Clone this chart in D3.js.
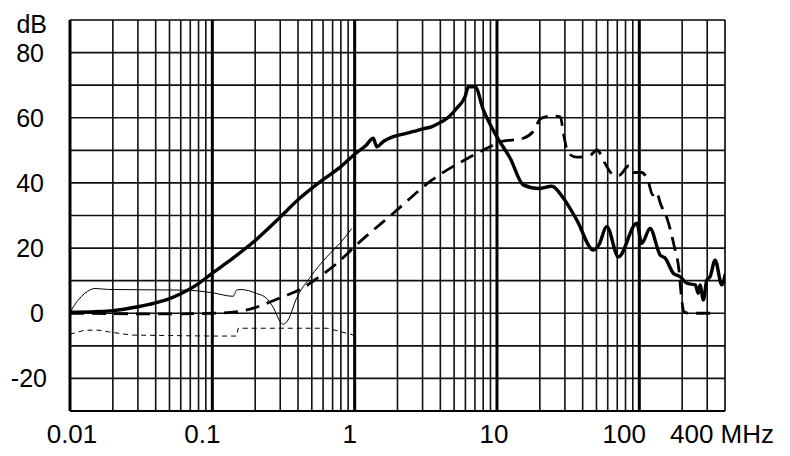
<!DOCTYPE html>
<html><head><meta charset="utf-8">
<script src="https://cdn.jsdelivr.net/npm/d3@7"></script>
<style>body{margin:0;background:#fff}svg{display:block}text{font-family:"Liberation Sans",Arial,sans-serif;fill:#000}</style>
</head><body><svg id="c" width="790" height="456"></svg>
<script>
// ---- data ----
const yTicks = [80, 60, 40, 20, 0, -20];
const yLabels = ["80", "60", "40", "20", "0", "-20"];
const xTicks = [0.01, 0.1, 1, 10, 100, 400];
const xLabels = ["0.01", "0.1", "1", "10", "100", "400 MHz"];
const yUnit = "dB";

// thick solid
const seriesA = [
 [0.01,0.3],[0.015,0.5],[0.02,0.8],[0.03,2],[0.04,3.2],[0.05,4.5],[0.06,6],[0.07,7.5],[0.08,9.1],[0.1,12.3],
 [0.13,15.9],[0.2,22.3],[0.3,29.5],[0.4,34.8],[0.6,41],[0.8,45],[1.0,48.8],[1.2,51.5],[1.35,53.7],[1.43,51.1],
 [1.6,52.8],[1.87,54.2],[2.3,55.2],[2.6,55.8],[2.96,56.5],[3.5,57.3],[4.09,58.8],[4.6,60.3],[5.21,62.9],[5.97,66.5],
 [6.3,69.5],[7.02,69.5],[8.02,62.4],[9.97,54.2],[12.4,47.5],[15.3,39.4],[19.6,38.3],[24.3,39],[29.3,35.3],
 [36.4,28.6],[47.6,19.4],[52,21],[59.1,26.6],[71.3,17.3],[96,27.6],[104,21.5],[119,26],[140,17.9],[152,16.9],
 [174,12.2],[194,11.2],[216,9.2],[247,8.7],[260,6.1],[267,8.7],[282,4.1],[298,10.2],[314,11.2],[341,16.3],[380,8.7],[400,11.7]
];
// thick dashed
const seriesB = [
 [0.01,0],[0.05,-0.2],[0.1,0],[0.15,0.5],[0.175,1],[0.24,3],[0.31,5],[0.41,7.2],[0.54,10.6],[0.75,15.3],[1.03,21],
 [1.87,30.7],[3.5,40.9],[6.5,48],[8.9,51.1],[10.5,52.6],[15.3,53.7],[17.9,55.7],[20.4,59.8],[24.3,60.5],[27.9,60.3],
 [29.3,55.2],[31.7,49.1],[36.4,47.9],[44.6,48.3],[50.4,50.1],[57.4,46],[62.9,43.2],[71.3,42.2],[85,45.3],[91,43.2],
 [104,43.2],[116,40.2],[124,36.3],[131,37.3],[142,33.2],[158,28.6],[174,21.5],[191,12.2],[197,5.6],[206,0.5],[224,0],[350,0]
];
// thin solid
const seriesC = [
 [0.01,0.3],[0.0114,4],[0.0127,6.1],[0.015,7.6],[0.0186,7.3],[0.064,7.1],[0.1,6.3],[0.14,5.2],[0.148,7.1],[0.157,7.3],
 [0.204,6.1],[0.24,4.6],[0.27,1.5],[0.30,-2.6],[0.315,-3.4],[0.34,-2.1],[0.39,4.5],[0.486,11],[0.637,17.3],[0.789,21.5],[0.955,26]
];
// thin dashed
const seriesD = [
 [0.01,-6.4],[0.0127,-5.2],[0.016,-5.2],[0.0186,-5.7],[0.027,-6.7],[0.1,-7],[0.148,-7],[0.152,-4.6],[0.64,-4.6],[0.79,-5.6],[0.98,-6.7]
];

// ---- layout ----
const svg = d3.select("#c");
const L = 70, R = 725, T = 20, B = 411;
const x = d3.scaleLog().domain([0.01, 400]).range([L, R]);
const y = d3.scaleLinear().domain([-30, 90]).range([B, T]);

const g = svg.append("g");
d3.range(-20, 90, 10).forEach(v => {
  g.append("line").attr("x1", L).attr("x2", R).attr("y1", y(v)).attr("y2", y(v))
   .attr("stroke", "#111").attr("stroke-width", 1.6);
});
const minors = [];
[0.01, 0.1, 1, 10, 100].forEach(d => { for (let k = 2; k <= 9; k++) { const v = d * k; if (v < 400) minors.push(v); } });
minors.forEach(v => {
  g.append("line").attr("x1", x(v)).attr("x2", x(v)).attr("y1", T).attr("y2", B)
   .attr("stroke", "#111").attr("stroke-width", 1.6);
});
[0.1, 1, 10, 100].forEach(v => {
  g.append("line").attr("x1", x(v)).attr("x2", x(v)).attr("y1", T).attr("y2", B)
   .attr("stroke", "#000").attr("stroke-width", 3);
});
g.append("line").attr("x1", L).attr("x2", R).attr("y1", T).attr("y2", T).attr("stroke", "#000").attr("stroke-width", 1.6);
g.append("line").attr("x1", L).attr("x2", R).attr("y1", B).attr("y2", B).attr("stroke", "#000").attr("stroke-width", 2);
g.append("line").attr("x1", R).attr("x2", R).attr("y1", T).attr("y2", B).attr("stroke", "#000").attr("stroke-width", 1.6);
g.append("line").attr("x1", L).attr("x2", L).attr("y1", T).attr("y2", B).attr("stroke", "#000").attr("stroke-width", 3);

svg.append("clipPath").attr("id", "clip").append("rect").attr("x", L).attr("y", T).attr("width", R - L).attr("height", B - T);
const line = d3.line().x(d => x(d[0])).y(d => y(d[1]));
const cg = svg.append("g").attr("clip-path", "url(#clip)");
cg.append("path").datum(seriesD).attr("d", line.curve(d3.curveLinear)).attr("fill", "none").attr("stroke", "#000").attr("stroke-width", 1).attr("stroke-dasharray", "5,4");
cg.append("path").datum(seriesC).attr("d", line.curve(d3.curveMonotoneX)).attr("fill", "none").attr("stroke", "#000").attr("stroke-width", 1);
cg.append("path").datum(seriesB).attr("d", line.curve(d3.curveMonotoneX)).attr("fill", "none").attr("stroke", "#000").attr("stroke-width", 2.8).attr("stroke-dasharray", "14,8").attr("stroke-linejoin", "round");
cg.append("path").datum(seriesA).attr("d", line.curve(d3.curveMonotoneX)).attr("fill", "none").attr("stroke", "#000").attr("stroke-width", 3.4).attr("stroke-linejoin", "round").attr("stroke-linecap", "round");

const fsY = 25, fsX = 26;
yTicks.forEach((v, i) => {
  svg.append("text").attr("x", v < 0 ? 47 : 44).attr("y", y(v)).attr("dy", "0.36em")
    .attr("text-anchor", "end").attr("font-size", fsY).text(yLabels[i]);
});
svg.append("text").attr("x", 47).attr("y", 33).attr("text-anchor", "end").attr("font-size", fsY).text(yUnit);
const xOff = [2, -10, -5, -3, -15, 0];
xTicks.forEach((v, i) => {
  const t = svg.append("text").attr("y", 443).attr("font-size", fsX).text(xLabels[i]);
  if (i === xTicks.length - 1) t.attr("x", x(v) - 55).attr("text-anchor", "start");
  else t.attr("x", x(v) + xOff[i]).attr("text-anchor", "middle");
});
</script></body></html>
